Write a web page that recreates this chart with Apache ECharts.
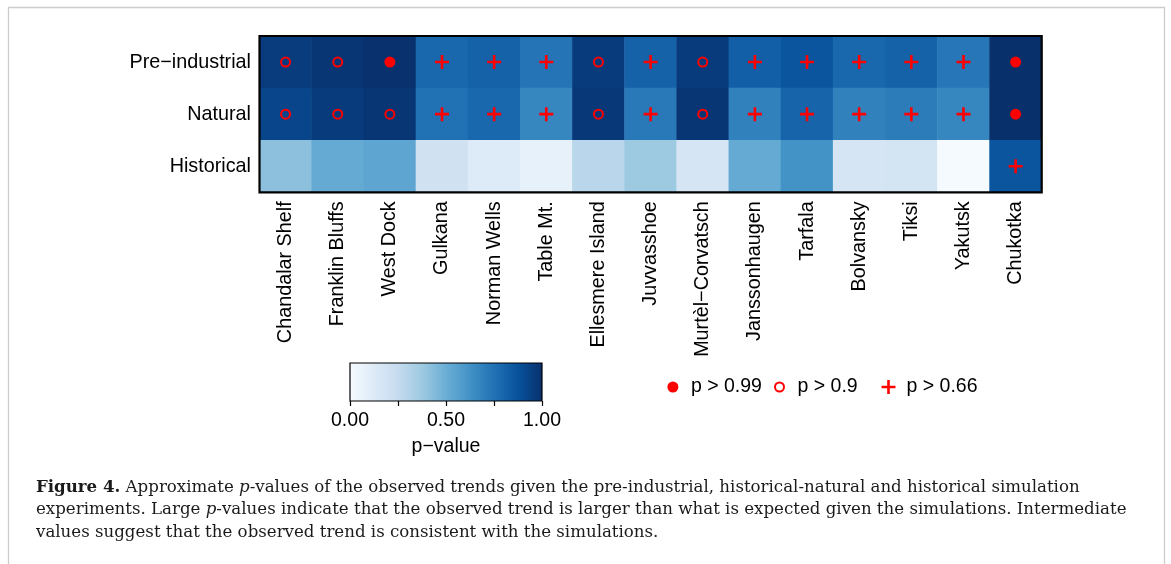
<!DOCTYPE html>
<html><head><meta charset="utf-8">
<script src="https://cdn.jsdelivr.net/npm/echarts@6/dist/echarts.min.js"></script>
<style>html,body{margin:0;padding:0;background:#fff}#c{width:1171px;height:564px}</style>
</head><body><div id="c"></div>
<script>
const sites = ['Chandalar Shelf','Franklin Bluffs','West Dock','Gulkana','Norman Wells','Table Mt.','Ellesmere Island','Juvvasshoe','Murtèl−Corvatsch','Janssonhaugen','Tarfala','Bolvansky','Tiksi','Yakutsk','Chukotka'];
const experiments = ['Pre−industrial','Natural','Historical'];
const preIndustrial = [0.955,0.98,0.995,0.79,0.81,0.74,0.96,0.81,0.96,0.82,0.86,0.79,0.81,0.73,0.999];
const natural       = [0.92,0.96,0.98,0.75,0.79,0.67,0.97,0.72,0.98,0.69,0.80,0.69,0.71,0.67,0.999];
const historical    = [0.42,0.52,0.54,0.20,0.13,0.08,0.29,0.375,0.17,0.52,0.62,0.17,0.18,0.01,0.86];
const colorTicks = [0, 0.25, 0.5, 0.75, 1];
const colorTickLabels = ['0.00','','0.50','','1.00'];
const thresholds = [0.99, 0.9, 0.66];
const thresholdLabels = ['p > 0.99','p > 0.9','p > 0.66'];
const blues = ['#f7fbff','#deebf7','#c6dbef','#9ecae1','#6baed6','#4292c6','#2171b5','#08519c','#08306b'];
const captionLines = [
  ['b','Figure 4.'],['r',' Approximate '],['i','p'],['r','-values of the observed trends given the pre-industrial, historical-natural and historical simulation\n'],
  ['r','experiments. Large '],['i','p'],['r','-values indicate that the observed trend is larger than what is expected given the simulations. Intermediate\n'],
  ['r','values suggest that the observed trend is consistent with the simulations.']
];

const rows = [preIndustrial, natural, historical];
const cells = [];
const markers = thresholds.map(() => []);
rows.forEach((row, yi) => row.forEach((v, xi) => {
  cells.push([xi, yi, v]);
  const k = thresholds.findIndex(t => v > t);
  if (k >= 0) markers[k].push([xi, yi]);
}));

const SANS = 'Liberation Sans, Arial, sans-serif';
const SERIF = 'DejaVu Serif';
const PLUS = 'path://M-1.3,-7H1.3V-1.3H7V1.3H1.3V7H-1.3V1.3H-7V-1.3H-1.3Z';

// fit caption first line to the reference width
const ctx = document.createElement('canvas').getContext('2d');
function segW(kind, txt, fs) {
  ctx.font = (kind === 'b' ? 'bold ' : kind === 'i' ? 'italic ' : '') + fs + 'px "' + SERIF + '"';
  return ctx.measureText(txt).width;
}
let w1 = 0;
for (const [k, t] of captionLines.slice(0, 4)) w1 += segW(k, t.replace('\n', ''), 18);
const capFs = Math.max(14, Math.min(20, 18 * 1045 / w1));
const capText = captionLines.map(([k, t]) => k === 'r' ? t : '{' + k + '|' + t + '}').join('');

const chart = echarts.init(document.getElementById('c'), null, {renderer: 'canvas'});
const legendBase = {orient:'horizontal', padding:0, itemWidth:26, selectedMode:false,
  textStyle:{fontFamily:SANS, fontSize:19.5, color:'#000', lineHeight:22}};
chart.setOption({
  animation: false,
  backgroundColor: '#fff',
  grid: [
    {left:259.5, top:36, width:782.2, height:156.3, show:true, borderColor:'#000', borderWidth:2.2, backgroundColor:'transparent', z:10},
    {left:350, top:363, width:192, height:38, show:true, borderColor:'#000', borderWidth:1.2,
     backgroundColor: new echarts.graphic.LinearGradient(0,0,1,0, blues.map((c,i)=>({offset:i/(blues.length-1), color:c})))}
  ],
  xAxis: [
    {type:'category', gridIndex:0, data:sites, axisLine:{show:false}, axisTick:{show:false}, splitLine:{show:false},
     axisLabel:{rotate:90, margin:9, fontSize:19.8, fontFamily:SANS, color:'#000', interval:0}},
    {type:'value', gridIndex:1, min:0, max:1, interval:0.25, axisLine:{show:false}, splitLine:{show:false},
     axisTick:{show:true, length:5, inside:false, lineStyle:{color:'#000', width:1.2}},
     axisLabel:{margin:10, fontSize:19.5, fontFamily:SANS, color:'#000',
       formatter: v => colorTickLabels[colorTicks.indexOf(v)] || ''},
     name:'p−value', nameLocation:'middle', nameGap:36, nameTextStyle:{fontSize:19.5, fontFamily:SANS, color:'#000'}}
  ],
  yAxis: [
    {type:'category', gridIndex:0, data:experiments, inverse:true, axisLine:{show:false}, axisTick:{show:false}, splitLine:{show:false},
     axisLabel:{margin:8.5, fontSize:19.8, fontFamily:SANS, color:'#000', padding:[10,0,0,0]}},
    {type:'value', gridIndex:1, show:false, min:0, max:1}
  ],
  visualMap: {show:false, type:'continuous', min:0, max:1, dimension:2, seriesIndex:0, inRange:{color:blues}},
  legend: [
    Object.assign({}, legendBase, {data:[thresholdLabels[0]], left:667.4, top:376, itemHeight:11}),
    Object.assign({}, legendBase, {data:[thresholdLabels[1]], left:774, top:376, itemHeight:9}),
    Object.assign({}, legendBase, {data:[thresholdLabels[2]], left:881.5, top:376, itemHeight:14})
  ],
  series: [
    {type:'heatmap', xAxisIndex:0, yAxisIndex:0, data:cells, emphasis:{disabled:true}, itemStyle:{borderWidth:0}},
    {type:'scatter', name:thresholdLabels[0], xAxisIndex:0, yAxisIndex:0, data:markers[0], symbol:'circle', symbolSize:11,
     itemStyle:{color:'#ff0000', opacity:1}, z:5, emphasis:{disabled:true}},
    {type:'scatter', name:thresholdLabels[1], xAxisIndex:0, yAxisIndex:0, data:markers[1], symbol:'circle', symbolSize:9,
     itemStyle:{color:'rgba(0,0,0,0)', borderColor:'#ff0000', borderWidth:2, opacity:1}, z:5, emphasis:{disabled:true}},
    {type:'scatter', name:thresholdLabels[2], xAxisIndex:0, yAxisIndex:0, data:markers[2], symbol:PLUS, symbolSize:14,
     itemStyle:{color:'#ff0000', opacity:1}, z:5, emphasis:{disabled:true}}
  ],
  graphic: [
    {type:'rect', shape:{x:8.5, y:7.5, width:1156, height:600}, style:{fill:'none', stroke:'#cccccc', lineWidth:1.3}, silent:true},
    {type:'text', x:36, y:476, silent:true, style:{
      text: capText,
      fontFamily:SERIF, fontSize:capFs, lineHeight:22.7, fill:'#1a1a1a',
      rich:{
        b:{fontFamily:SERIF, fontSize:capFs, fontWeight:'bold', lineHeight:22.7, fill:'#1a1a1a'},
        i:{fontFamily:SERIF, fontSize:capFs, fontStyle:'italic', lineHeight:22.7, fill:'#1a1a1a'}
      }}}
  ]
});
</script></body></html>
